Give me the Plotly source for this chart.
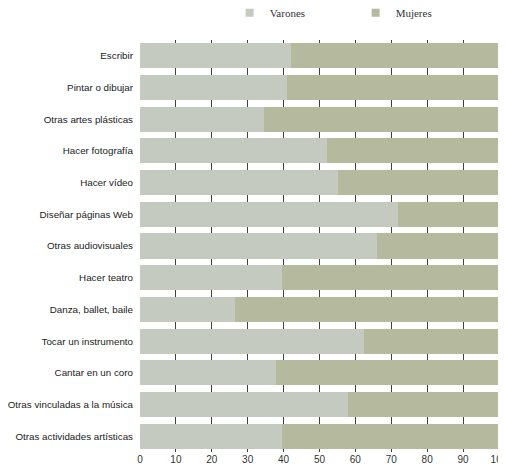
import plotly.graph_objects as go

categorias = [
    "Escribir",
    "Pintar o dibujar",
    "Otras artes plásticas",
    "Hacer fotografía",
    "Hacer vídeo",
    "Diseñar páginas Web",
    "Otras audiovisuales",
    "Hacer teatro",
    "Danza, ballet, baile",
    "Tocar un instrumento",
    "Cantar en un coro",
    "Otras vinculadas a la música",
    "Otras actividades artísticas",
]
varones = [42, 41, 34.5, 52, 55.3, 72, 66, 39.5, 26.4, 62.5, 37.8, 58, 39.7]
mujeres = [round(100 - v, 1) for v in varones]

c_var = "#c5cac0"
c_muj = "#b5b99e"

fig = go.Figure()
fig.add_trace(go.Bar(y=categorias, x=varones, orientation="h", name="Varones",
                     marker=dict(color=c_var, line_width=0), showlegend=False))
fig.add_trace(go.Bar(y=categorias, x=mujeres, orientation="h", name="Mujeres",
                     marker=dict(color=c_muj, line_width=0), showlegend=False))

# legend entries with small square markers
for nombre, col in [("Varones", c_var), ("Mujeres", c_muj)]:
    fig.add_trace(go.Scatter(x=[None], y=[None], mode="markers", name=nombre,
                             marker=dict(symbol="square", size=8, color=col)))

# page body has an 8px margin, so the figure is a bit smaller than the window
fig.update_layout(
    width=498, height=468,
    barmode="stack", bargap=0.21,
    plot_bgcolor="white", paper_bgcolor="white",
    margin=dict(l=132, r=6, t=32, b=24, autoexpand=False),
    font=dict(family="Liberation Sans, Arial", size=9.8, color="#222222"),
    legend=dict(orientation="h", x=0.249, y=1.066, yanchor="middle", yref="paper",
                xanchor="left", itemwidth=30, entrywidth=81, entrywidthmode="pixels",
                traceorder="normal",
                font=dict(family="Liberation Serif, Times New Roman", size=11, color="#333333"),
                bgcolor="rgba(0,0,0,0)"),
)
fig.update_xaxes(range=[0, 100.3], dtick=10, showgrid=True, gridcolor="#404040", gridwidth=1,
                 zeroline=False, showline=False, ticks="", automargin=False,
                 ticklabeloverflow="allow",
                 tickfont=dict(family="Liberation Sans, Arial", size=10, color="#333333"))
fig.update_yaxes(autorange="reversed", showgrid=False, ticks="", ticklabelstandoff=6,
                 showline=False, automargin=False)

fig.write_html("out.html")
